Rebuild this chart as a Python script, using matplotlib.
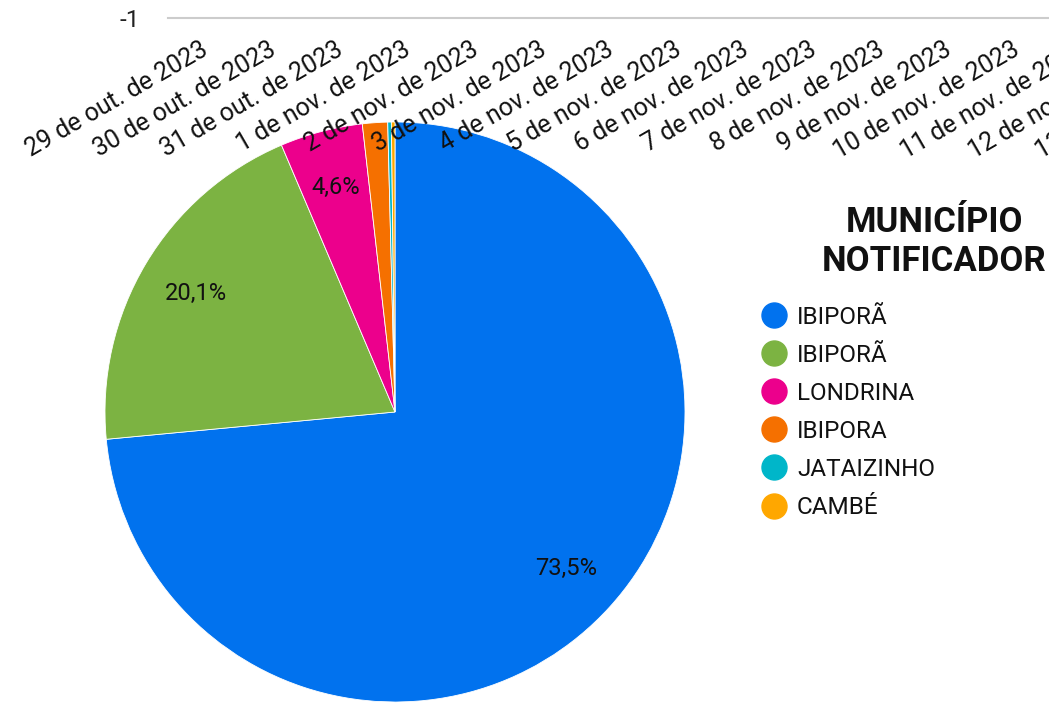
import matplotlib
matplotlib.use("Agg")
import matplotlib.pyplot as plt
from matplotlib.lines import Line2D

plt.rcParams["font.family"] = ["Roboto", "DejaVu Sans"]

# slices clockwise from 12 o'clock
municipios = ["IBIPORÃ", "IBIPORÃ", "LONDRINA", "IBIPORA", "JATAIZINHO", "CAMBÉ"]
percentuais = [73.5, 20.1, 4.6, 1.4, 0.2, 0.2]
cores = ["#0172ee", "#7cb342", "#ec008c", "#f57000", "#00b6c9", "#ffa700"]

datas = [
    "29 de out. de 2023", "30 de out. de 2023", "31 de out. de 2023",
    "1 de nov. de 2023", "2 de nov. de 2023", "3 de nov. de 2023",
    "4 de nov. de 2023", "5 de nov. de 2023", "6 de nov. de 2023",
    "7 de nov. de 2023", "8 de nov. de 2023", "9 de nov. de 2023",
    "10 de nov. de 2023", "11 de nov. de 2023", "12 de nov. de 2023",
    "13 de nov. de 2023",
]
y_ticks = [-1]

W, H = 1049, 721
fig = plt.figure(figsize=(W / 100, H / 100), dpi=100)

# pie
ax = fig.add_axes([105 / W, 19 / H, 580 / W, 580 / H])


def rotulo(p):
    return f"{p:.1f}%".replace(".", ",") if p >= 3 else ""


wedges, _, autotexts = ax.pie(
    percentuais, colors=cores, startangle=90, counterclock=False,
    autopct=rotulo, pctdistance=0.8, radius=1.0,
    wedgeprops=dict(edgecolor="white", linewidth=0.6),
    textprops=dict(fontsize=17, color="#111111"),
)
ax.set_xlim(-1, 1)
ax.set_ylim(-1, 1)
ax.set_aspect("equal")

# stray axis across the top (gridline at -1 with date labels)
x0, x1 = 168, 1300
step, first = 67.6, 200
ax2 = fig.add_axes([x0 / W, 1 - 18 / H, (x1 - x0) / W, 1e-4])
ax2.set_xlim((x0 - first) / step, (x1 - first) / step)
ax2.set_ylim(-1, -0.999)
ax2.axhline(-1, color="#cccccc", linewidth=1.5, clip_on=False)
for s in ax2.spines.values():
    s.set_visible(False)
ax2.patch.set_visible(False)
ax2.set_yticks(y_ticks)
ax2.set_yticklabels([str(v) for v in y_ticks], fontsize=17.5, color="#222222")
ax2.tick_params(axis="y", length=0, pad=20)
ax2.set_xticks(range(len(datas)))
ax2.set_xticklabels(datas, fontsize=18, color="#111111")
ax2.tick_params(axis="x", length=0, pad=14)
for lbl in ax2.get_xticklabels():
    lbl.set_rotation(30)
    lbl.set_ha("right")
    lbl.set_va("top")
    lbl.set_rotation_mode("anchor")

# legend
handles = [Line2D([], [], marker="o", linestyle="", markersize=18,
                  markerfacecolor=c, markeredgecolor=c) for c in cores]
leg = fig.legend(
    handles, municipios, loc="upper left", bbox_to_anchor=(752 / W, 1 - 296 / H),
    frameon=False, fontsize=17.5, handlelength=1.0, handletextpad=0.45,
    labelspacing=0.62, borderaxespad=0,
)
for t in leg.get_texts():
    t.set_color("#111111")

fig.text(934 / W, 1 - 222 / H, "MUNICÍPIO", ha="center", va="center",
         fontsize=25, fontweight="bold", color="#111111")
fig.text(934 / W, 1 - 261 / H, "NOTIFICADOR", ha="center", va="center",
         fontsize=25, fontweight="bold", color="#111111")

fig.savefig("out.png", dpi=100)
